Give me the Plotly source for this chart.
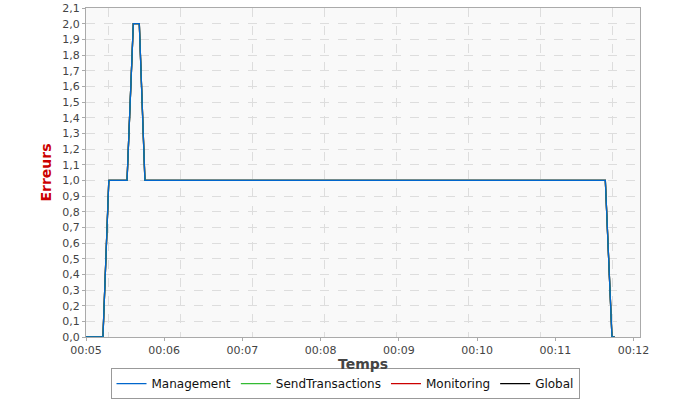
import plotly.graph_objects as go

# error counts over time (all series share the same values)
times = ["1970-01-01 00:05:00", "1970-01-01 00:05:13", "1970-01-01 00:05:17.5",
         "1970-01-01 00:05:31.5", "1970-01-01 00:05:36.3", "1970-01-01 00:05:40.9",
         "1970-01-01 00:05:45.2", "1970-01-01 00:11:38.4", "1970-01-01 00:11:43.5",
         "1970-01-01 00:11:45.5"]
management = [0, 0, 1, 1, 2, 2, 1, 1, 0, 0]
send_transactions = [0, 0, 1, 1, 2, 2, 1, 1, 0, 0]
monitoring = [0, 0, 1, 1, 2, 2, 1, 1, 0, 0]
global_err = [0, 0, 1, 1, 2, 2, 1, 1, 0, 0]

series_names = ["Management", "SendTransactions", "Monitoring", "Global"]
series_values = [management, send_transactions, monitoring, global_err]
series_colors = ["#0066cc", "#33bb33", "#cc0000", "#000000"]

x_range = ["1970-01-01 00:05:00", "1970-01-01 00:12:05"]

fig = go.Figure()

# invisible helper so the grid-only axis x2 gets drawn
fig.add_trace(go.Scatter(x=times, y=global_err, mode="lines", xaxis="x2",
                         opacity=0, showlegend=False, hoverinfo="skip"))

# draw in reverse so Management ends up on top, keep legend order with legendrank
for i in reversed(range(len(series_names))):
    fig.add_trace(go.Scatter(x=times, y=series_values[i], mode="lines",
                             name=series_names[i], legendrank=i + 1,
                             line=dict(color=series_colors[i], width=1.3)))

axis_font = dict(family="DejaVu Sans", size=11, color="#444444")

fig.update_layout(
    width=690, height=400,
    margin=dict(l=86, r=50, t=8, b=63, autoexpand=False),
    paper_bgcolor="white",
    plot_bgcolor="#f9f9f9",
    separators=", ",
    font=dict(family="DejaVu Sans", size=13, color="#222222"),
    xaxis=dict(type="date", range=x_range, tickformat="%H:%M", dtick=60000,
               tick0="1970-01-01 00:05:00", showgrid=False, zeroline=False,
               showline=True, linecolor="#aaaaaa", linewidth=1, mirror=True,
               ticks="outside", ticklen=3, tickcolor="#aaaaaa", tickfont=axis_font),
    # extra axis only used for the vertical grid, which is not aligned with the ticks
    xaxis2=dict(type="date", overlaying="x", anchor="y", matches="x", range=x_range,
                tick0="1970-01-01 00:05:17.5", dtick=55200, showticklabels=False,
                ticks="", showgrid=True, gridcolor="#dddddd", griddash="dash",
                gridwidth=1, zeroline=False, showline=False),
    yaxis=dict(range=[0, 2.1], dtick=0.1, tickformat=".1f", showgrid=True,
               gridcolor="#dddddd", griddash="dash", zeroline=False,
               showline=True, linecolor="#aaaaaa", linewidth=1, mirror=True,
               ticks="outside", ticklen=3, tickcolor="#aaaaaa", tickfont=axis_font,
               title=dict(text="<b>Erreurs</b>", standoff=7,
                          font=dict(family="DejaVu Sans", size=14, color="#cc0000"))),
    legend=dict(orientation="h", xref="container", x=0.5, xanchor="center",
                yref="container", y=0.002, yanchor="bottom",
                bordercolor="#999999", borderwidth=1, bgcolor="white",
                font=dict(family="DejaVu Sans", size=12, color="#111111"),
                itemwidth=30, tracegroupgap=0),
)

# x axis title placed by hand, standoff is ignored with fixed margins
fig.add_annotation(text="<b>Temps</b>", xref="paper", yref="paper", x=0.5, y=0,
                   xanchor="center", yanchor="top", yshift=-17, showarrow=False,
                   font=dict(family="DejaVu Sans", size=14, color="#444444"))

# drop the default page margin so the figure sits at the window corner
fig.write_html("out.html", config={"displayModeBar": False},
               post_script="document.body.style.margin='0';")
